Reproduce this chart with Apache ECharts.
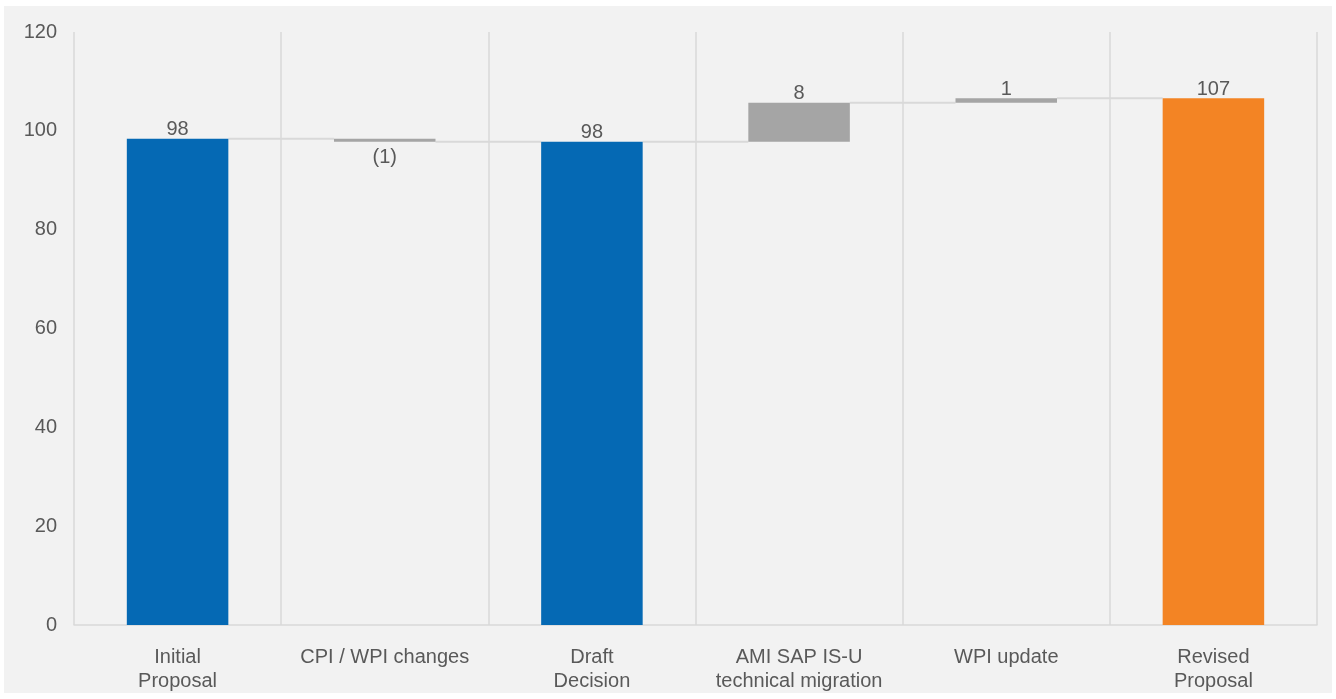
<!DOCTYPE html>
<html>
<head>
<meta charset="utf-8">
<script src="https://cdn.jsdelivr.net/npm/echarts@6/dist/echarts.min.js"></script>
<style>
  html, body { margin: 0; padding: 0; background: #ffffff; }
  #chart { position: absolute; left: 4px; top: 6px; width: 1328px; height: 687px; }
</style>
</head>
<body>
<div id="chart"></div>
<script>
  const categories = ['Initial\nProposal', 'CPI / WPI changes', 'Draft\nDecision', 'AMI SAP IS-U\ntechnical migration', 'WPI update', 'Revised\nProposal'];
  const values = [98.4, -0.6, 97.8, 7.9, 0.9, 106.6];
  const kinds = ['total', 'delta', 'total', 'delta', 'delta', 'total'];
  const yTicks = [0, 20, 40, 60, 80, 100, 120];

  const colors = { total: '#0569b4', delta: '#a5a5a5', last: '#f38424' };
  const font = 'Liberation Sans, Arial, sans-serif';

  // build the waterfall pieces from the values
  const base = [];
  const height = [];
  const levels = [];
  let running = 0;
  values.forEach((v, i) => {
    if (kinds[i] === 'total') {
      base.push(0);
      height.push(v);
      running = v;
    } else {
      base.push(v >= 0 ? running : running + v);
      height.push(Math.abs(v));
      running += v;
    }
    levels.push(running);
  });

  const fmt = (v) => {
    const r = Math.round(Math.abs(v));
    return v < 0 ? '(' + r + ')' : String(r);
  };

  const barData = values.map((v, i) => ({
    value: height[i],
    itemStyle: {
      color: i === values.length - 1 ? colors.last : colors[kinds[i]]
    },
    label: {
      position: v < 0 ? 'bottom' : 'top',
      distance: v < 0 ? 6 : -1,
      formatter: fmt(v)
    }
  }));

  const connectorData = levels.slice(0, -1).map((l, i) => [i, l]);

  const chart = echarts.init(document.getElementById('chart'));
  chart.setOption({
    backgroundColor: '#f2f2f2',
    animation: false,
    grid: { left: 70, right: 15, top: 26, bottom: 67 },
    xAxis: {
      type: 'category',
      data: categories,
      axisTick: { show: false },
      axisLine: { lineStyle: { color: '#d9d9d9', width: 1.5 } },
      splitLine: { show: true, lineStyle: { color: '#d9d9d9', width: 1.5 } },
      axisLabel: {
        color: '#595959',
        fontSize: 20,
        fontFamily: font,
        lineHeight: 24,
        margin: 20,
        interval: 0
      }
    },
    yAxis: {
      type: 'value',
      min: yTicks[0],
      max: yTicks[yTicks.length - 1],
      interval: 20,
      axisLine: { show: false },
      axisTick: { show: false },
      splitLine: { show: false },
      axisLabel: {
        color: '#595959',
        fontSize: 20,
        fontFamily: font,
        margin: 17
      }
    },
    series: [
      {
        type: 'bar',
        stack: 'wf',
        barWidth: '49%',
        itemStyle: { color: 'transparent' },
        data: base,
        silent: true
      },
      {
        type: 'bar',
        stack: 'wf',
        barWidth: '49%',
        data: barData,
        label: {
          show: true,
          color: '#595959',
          fontSize: 20,
          fontFamily: font
        }
      },
      {
        type: 'custom',
        data: connectorData,
        encode: { x: 0, y: 1 },
        z: 1,
        renderItem: function (params, api) {
          const p = api.coord([api.value(0), api.value(1)]);
          const band = api.size([1, 0])[0];
          const half = band * 0.49 / 2;
          return {
            type: 'line',
            shape: { x1: p[0] + half, y1: p[1], x2: p[0] + band - half, y2: p[1] },
            style: { stroke: '#d9d9d9', lineWidth: 2 }
          };
        }
      }
    ]
  });
</script>
</body>
</html>
